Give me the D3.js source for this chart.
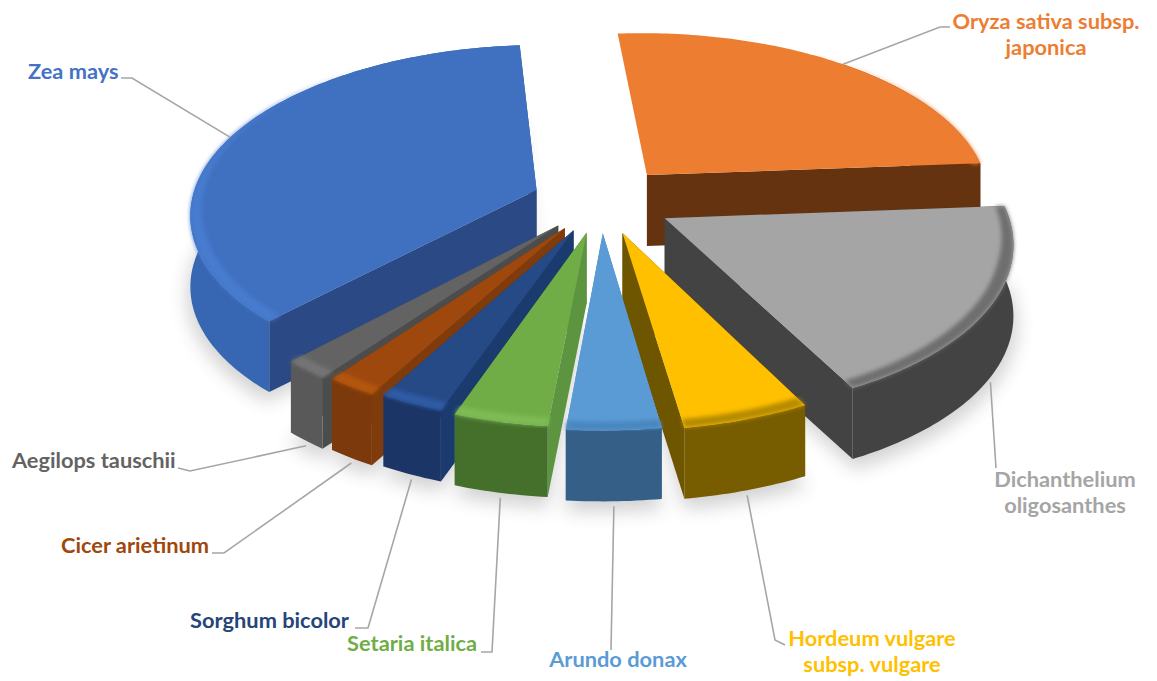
<!DOCTYPE html>
<html>
<head>
<meta charset="utf-8">
<script src="https://cdn.jsdelivr.net/npm/d3@7"></script>
<style>
  html, body { margin: 0; background: #fff; }
  text { font-family: Lato, "Open Sans", sans-serif; font-weight: 700; }
</style>
</head>
<body>
<div id="chart"></div>
<script>
// data, clockwise from the top of the pie
var species = ["Oryza sativa subsp. japonica", "Dichanthelium oligosanthes", "Hordeum vulgare subsp. vulgare",
    "Arundo donax", "Setaria italica", "Sorghum bicolor", "Cicer arietinum", "Aegilops tauschii", "Zea mays"];
var shares = [25.1, 18.56, 5.25, 3.86, 3.92, 2.7, 2.1, 1.9, 36.6];

// label text, broken as in the picture
var labelLines = [["Oryza sativa subsp.", "japonica"], ["Dichanthelium", "oligosanthes"], ["Hordeum vulgare", "subsp. vulgare"],
    ["Arundo donax"], ["Setaria italica"], ["Sorghum bicolor"], ["Cicer arietinum"], ["Aegilops tauschii"], ["Zea mays"]];

// colours
var topColors = ["#ED7D31", "#A5A5A5", "#FFC000", "#5B9BD5", "#70AD47", "#264A86", "#9E480E", "#636363", "#4070C0"];
var wallColors = ["#663310", "#434343", "#775C00", "#355F87", "#44702C", "#1B3566", "#7B390C", "#595959", "#3766B2"];
var faceColors = ["#663310", "#434343", "#6E5500", "#4E86B8", "#5C9440", "#1B3A6E", "#7F3B0C", "#4C4C4C", "#2B4A85"];
var bevelColors = ["#ED7D31", "#6E6E6E", "#B58A00", "#4A86BE", "#7FBB55", "#2F5CA6", "#B4560F", "#757575", "#477BCF"];
var labelColors = ["#ED7D31", "#A5A5A5", "#FFC000", "#5B9BD5", "#70AD47", "#264478", "#9E480E", "#636363", "#4472C4"];

// per slice explosion and radius factor, the picture's perspective is not quite regular
var sliceExplode = [72, 72, 68, 65, 65, 65, 65, 65, 69];
var sliceRadius = [1, 0.985, 0.975, 0.975, 0.965, 0.96, 0.97, 0.98, 1];

// label placement: anchor, text x, first baseline, and the elbow of the leader
var labelAnchor = ["middle", "middle", "middle", "middle", "end", "end", "end", "start", "start"];
var labelX = [1046, 1065, 872, 618, 477, 349, 209, 12, 28];
var labelY = [29, 487, 646, 667, 651, 628, 553, 468, 79];
var elbows = [[[940, 27], [950, 27]], [[996, 468]], [[775, 640], [785, 645]], [[611, 650]], [[492, 652], [481, 652]],
    [[368, 628], [355, 628]], [[224, 553], [212, 553]], [[190, 471], [178, 468]], [[132, 78], [121, 78]]];

var width = 1157, height = 681;
var radius = 345, depth = 71;
var cx = 601, cy = 201, squash = 0.484, camera = 2620;
var startAngle = -4.6 * Math.PI / 180;

var svg = d3.select("#chart").append("svg")
    .attr("width", width)
    .attr("height", height);

var defs = svg.append("defs");
defs.append("filter").attr("id", "shadowBlur")
    .attr("x", "-20%").attr("y", "-20%").attr("width", "140%").attr("height", "140%")
    .append("feGaussianBlur").attr("stdDeviation", 9);
defs.append("filter").attr("id", "bevelBlur")
    .attr("x", "-5%").attr("y", "-5%").attr("width", "110%").attr("height", "110%")
    .append("feGaussianBlur").attr("stdDeviation", 2.1);

var pie = d3.pie().sort(null).startAngle(startAngle).endAngle(startAngle + 2 * Math.PI);
var slices = pie(shares).map(function(d, i) {
    d.i = i;
    d.mid = (d.startAngle + d.endAngle) / 2;
    d.r = radius * sliceRadius[i];
    return d;
});

// plane point (angle clockwise from the back, distance r) of slice d onto the screen
function project(d, angle, r, h) {
    var e = sliceExplode[d.i];
    var x = e * Math.sin(d.mid) + r * Math.sin(angle);
    var z = -(e * Math.cos(d.mid) + r * Math.cos(angle));
    var s = camera / (camera - z);
    return [cx + x * s, cy + z * squash * s + h];
}

function arcAngles(d, from) {
    var a0 = from === undefined ? d.startAngle : from;
    var n = Math.max(4, Math.ceil((d.endAngle - a0) * 60));
    return d3.range(n + 1).map(function(j) {
        return a0 + (d.endAngle - a0) * j / n;
    });
}

function arcPoints(d, r, h, from) {
    return arcAngles(d, from).map(function(a) { return project(d, a, r, h); });
}

// the bevel is widest on the side turned to the viewer and gone at the back
function bevelWidth(a) {
    return 13 * Math.max(0, Math.min(1, 0.75 - 0.9 * Math.cos(a)));
}

var line = d3.line();
function closed(points) { return line(points) + "Z"; }

// back slices first so that the front ones cover them
var order = slices.slice().sort(function(a, b) { return d3.descending(Math.cos(a.mid), Math.cos(b.mid)); });

// soft shadow on the floor, none for the back slice
svg.append("g").attr("filter", "url(#shadowBlur)").attr("opacity", 0.24)
    .selectAll("path").data(order.filter(function(d) { return d.i !== 0; })).enter().append("path")
    .attr("fill", "#444")
    .attr("d", function(d) {
        var apex = project(d, d.startAngle, 0, depth + 8);
        return closed([apex].concat(arcPoints(d, d.r * 1.01, depth + 8)));
    });

var sliceG = svg.append("g").selectAll("g").data(order).enter().append("g");

// the two cut faces, the chart does not show the left one of the first slice
sliceG.selectAll(".face")
    .data(function(d) {
        return d.i === 0 ? [[d, d.endAngle]] : [[d, d.startAngle], [d, d.endAngle]];
    })
    .enter().append("path")
    .attr("class", "face")
    .attr("fill", function(a) { return faceColors[a[0].i]; })
    .attr("d", function(a) {
        var d = a[0];
        return closed([project(d, a[1], 0, 0), project(d, a[1], d.r, 0), project(d, a[1], d.r, depth), project(d, a[1], 0, depth)]);
    });

// outer wall, for the first slice only its right half, the rest would stick out at the back
sliceG.append("path")
    .attr("fill", function(d) { return wallColors[d.i]; })
    .attr("d", function(d) {
        var from = d.i === 0 ? d.mid : d.startAngle;
        return closed(arcPoints(d, d.r, 0, from).concat(arcPoints(d, d.r, depth, from).reverse()));
    });

// top
sliceG.append("path")
    .attr("fill", function(d) { return topColors[d.i]; })
    .attr("d", function(d) {
        return closed([project(d, d.startAngle, 0, 0)].concat(arcPoints(d, d.r, 0)));
    });

// rim bevel
sliceG.append("path")
    .attr("fill", function(d) { return bevelColors[d.i]; })
    .attr("filter", "url(#bevelBlur)")
    .attr("d", function(d) {
        var inner = arcAngles(d).map(function(a) { return project(d, a, d.r - bevelWidth(a), 0); });
        return closed(arcPoints(d, d.r, 0).concat(inner.reverse()));
    });

// leader lines start at the middle of each slice's rim
svg.append("g").selectAll("path").data(slices).enter().append("path")
    .attr("fill", "none")
    .attr("stroke", "#a6a6a6")
    .attr("stroke-width", 1.6)
    .attr("d", function(d) {
        var h = Math.cos(d.mid) > 0 ? 0 : depth + 5;
        return line([project(d, d.mid, d.r, h)].concat(elbows[d.i]));
    });

var labels = svg.append("g").selectAll("text").data(slices).enter().append("text")
    .attr("x", function(d) { return labelX[d.i]; })
    .attr("y", function(d) { return labelY[d.i]; })
    .attr("text-anchor", function(d) { return labelAnchor[d.i]; })
    .attr("fill", function(d) { return labelColors[d.i]; })
    .attr("font-size", 21.8);

labels.selectAll("tspan")
    .data(function(d) { return labelLines[d.i]; })
    .enter().append("tspan")
    .attr("x", function() { return d3.select(this.parentNode).attr("x"); })
    .attr("dy", function(d, i) { return i ? 26 : 0; })
    .text(function(d) { return d; });
</script>
</body>
</html>
